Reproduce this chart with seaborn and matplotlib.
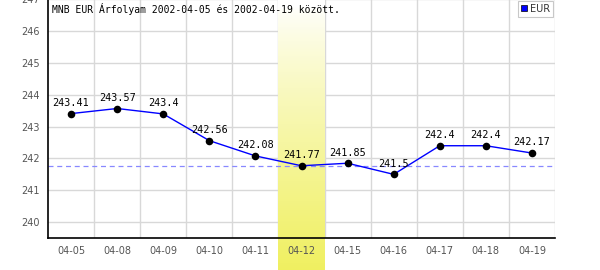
import numpy as np
import pandas as pd
import matplotlib
matplotlib.use("Agg")
import matplotlib.pyplot as plt
import seaborn as sns
from matplotlib.lines import Line2D

dates = ["04-05", "04-08", "04-09", "04-10", "04-11", "04-12",
         "04-15", "04-16", "04-17", "04-18", "04-19"]
eur = [243.41, 243.57, 243.4, 242.56, 242.08, 241.77,
       241.85, 241.5, 242.4, 242.4, 242.17]
yticks = [240, 241, 242, 243, 244, 245, 246, 247]
highlight = "04-12"
title = "MNB EUR Árfolyam 2002-04-05 és 2002-04-19 között."
series_name = "EUR"

sns.set_theme(style="white")
plt.rcParams["font.family"] = ["DejaVu Sans"]

df = pd.DataFrame({"date": dates, "eur": eur, "pos": np.arange(len(dates))})

fig = plt.figure(figsize=(6, 2.7), dpi=100)
ax = fig.add_axes([48 / 600, 32 / 270, 507 / 600, 245 / 270])

ymin, ymax = 239.5, 247.2
ax.set_ylim(ymin, ymax)
ax.set_xlim(-0.5, len(dates) - 0.5)

# grid
for yv in yticks:
    ax.axhline(yv, color="#d8d8d8", lw=1, zorder=0.5)
for k in range(len(dates)):
    ax.axvline(k + 0.5, color="#d8d8d8", lw=1, zorder=0.5)

# highlight band (gradient), extends below the axis to figure bottom
hi = dates.index(highlight)
grad = np.clip(np.linspace(-0.05, 1, 256), 0, 1) ** 0.8
top = np.array([1.0, 1.0, 1.0])
bot = np.array([0.94, 0.94, 0.38])
img = (top[None, :] * (1 - grad[:, None]) + bot[None, :] * grad[:, None])[:, None, :]
ybottom = ymin - (32 / 245) * (ymax - ymin)
ax.imshow(img, extent=(hi - 0.5, hi + 0.5, ybottom, ymax), origin="upper",
          aspect="auto", zorder=0.7, clip_on=False)

# dashed reference line at the highlighted day's value
ax.axhline(eur[hi], color="#8888ff", lw=0.9, ls=(0, (4, 3)), zorder=1)

sns.lineplot(data=df, x="pos", y="eur", color="#0000ff", lw=1, ax=ax, zorder=2)
sns.scatterplot(data=df, x="pos", y="eur", color="black", s=30, edgecolor="black",
                linewidth=0, ax=ax, zorder=3)

for p, v in zip(df["pos"], eur):
    ax.annotate(f"{v:g}", (p, v), xytext=(0, 4), textcoords="offset points",
                ha="center", va="bottom", fontsize=7.3, family="DejaVu Sans Mono",
                color="black", zorder=4)

ax.set_xticks(df["pos"])
ax.set_xticklabels(dates)
ax.set_yticks(yticks)
ax.set_yticklabels([str(t) for t in yticks])
ax.tick_params(axis="both", length=0, labelsize=7, labelcolor="#555555", pad=6)
ax.set_xlabel("")
ax.set_ylabel("")
ax.xaxis.set_zorder(4)
ax.yaxis.set_zorder(4)

for s in ["top", "right"]:
    ax.spines[s].set_visible(False)
for s in ["left", "bottom"]:
    ax.spines[s].set_color("black")
    ax.spines[s].set_linewidth(1.2)
    ax.spines[s].set_zorder(5)

fig.text(52 / 600, 1 - 9 / 270, title, fontsize=7, family="DejaVu Sans Mono",
         color="black", va="center", ha="left")

handle = Line2D([], [], marker="s", color="#0000ff", markeredgecolor="black",
                markeredgewidth=0.5, markersize=4, lw=0)
leg = ax.legend([handle], [series_name], loc="upper right",
                bbox_to_anchor=(1.0, 1 - 6 / 245), fontsize=7, frameon=True,
                fancybox=False, handlelength=0.6, handletextpad=0.3,
                borderpad=0.3, borderaxespad=0.2)
leg.get_frame().set_edgecolor("#bbbbbb")
leg.get_frame().set_linewidth(0.8)
for t in leg.get_texts():
    t.set_color("#333333")

fig.savefig("out.png", dpi=100)
